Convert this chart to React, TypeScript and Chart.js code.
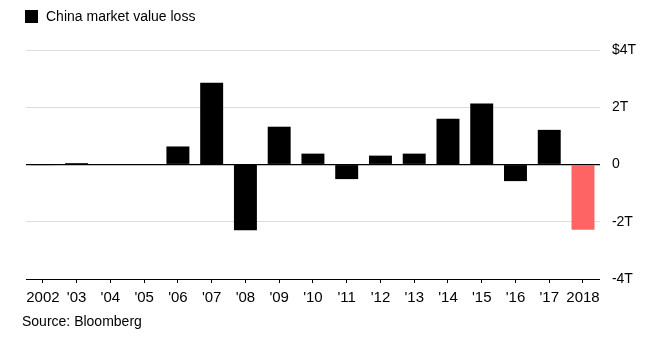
import React, { useEffect, useRef } from "react";
import { Chart, registerables } from "chart.js";

Chart.register(...registerables);

const categories = ["2002", "'03", "'04", "'05", "'06", "'07", "'08", "'09", "'10", "'11", "'12", "'13", "'14", "'15", "'16", "'17", "2018"];
const marketValueLoss = [-0.01, 0.05, -0.02, 0.02, 0.63, 2.86, -2.3, 1.32, 0.38, -0.51, 0.31, 0.38, 1.6, 2.13, -0.58, 1.21, -2.28];
const yTicks = [-4, -2, 0, 2, 4];
const seriesName = "China market value loss";
const sourceText = "Source: Bloomberg";

const FONT = "'Liberation Sans', Arial, Helvetica, sans-serif";

export default function App() {
  const canvasRef = useRef<HTMLCanvasElement | null>(null);

  useEffect(() => {
    if (!canvasRef.current) return;
    const colors = marketValueLoss.map((_, i) => (i === marketValueLoss.length - 1 ? "#ff6464" : "#000000"));
    const chart = new Chart(canvasRef.current, {
      type: "bar",
      data: {
        labels: categories,
        datasets: [
          {
            label: seriesName,
            data: marketValueLoss,
            backgroundColor: colors,
            borderWidth: 0,
            barPercentage: 0.68,
            categoryPercentage: 1,
          },
        ],
      },
      options: {
        animation: false,
        responsive: false,
        maintainAspectRatio: false,
        layout: { padding: { top: 50, left: 26, right: 9, bottom: 36 } },
        plugins: {
          legend: { display: false },
          tooltip: { enabled: false },
        },
        scales: {
          x: {
            offset: true,
            grid: {
              offset: false,
              drawOnChartArea: false,
              drawTicks: true,
              tickLength: 4,
              color: "#000",
            },
            border: { display: true, color: "#000", width: 1 },
            ticks: {
              color: "#000",
              font: { family: FONT, size: 15 },
              padding: 6,
              maxRotation: 0,
              autoSkip: false,
            },
          },
          y: {
            position: "right",
            min: -4,
            max: 4,
            afterBuildTicks: (axis: any) => {
              axis.ticks = yTicks.map((v) => ({ value: v }));
            },
            grid: {
              drawTicks: false,
              color: (ctx: any) => {
                const v = ctx.tick ? ctx.tick.value : null;
                if (v === 0) return "#000";
                if (v === -4) return "rgba(0,0,0,0)";
                return "#dddddd";
              },
              lineWidth: (ctx: any) => (ctx.tick && ctx.tick.value === 0 ? 1.2 : 1),
            },
            border: { display: false },
            ticks: {
              color: "#000",
              font: { family: FONT, size: 14 },
              padding: 12,
              callback: (v: any) => {
                const n = Number(v);
                if (n === 0) return "0";
                if (n === 4) return "$4T";
                return `${n}T`;
              },
            },
          },
        },
      },
    });
    return () => chart.destroy();
  }, []);

  return (
    <div style={{ position: "fixed", left: 0, top: 0, width: 657, height: 349, background: "#fff", fontFamily: FONT }}>
      <canvas ref={canvasRef} width={657} height={349} style={{ position: "absolute", left: 0, top: 0, width: 657, height: 349 }} />
      <div style={{ position: "absolute", left: 25, top: 8, display: "flex", alignItems: "center", fontSize: 14, color: "#000", lineHeight: "17px" }}>
        <span style={{ display: "inline-block", width: 13, height: 13, background: "#000", marginRight: 8 }} />
        <span>{seriesName}</span>
      </div>
      <div style={{ position: "absolute", left: 22, top: 313, fontSize: 14, color: "#000", lineHeight: "17px" }}>{sourceText}</div>
    </div>
  );
}
